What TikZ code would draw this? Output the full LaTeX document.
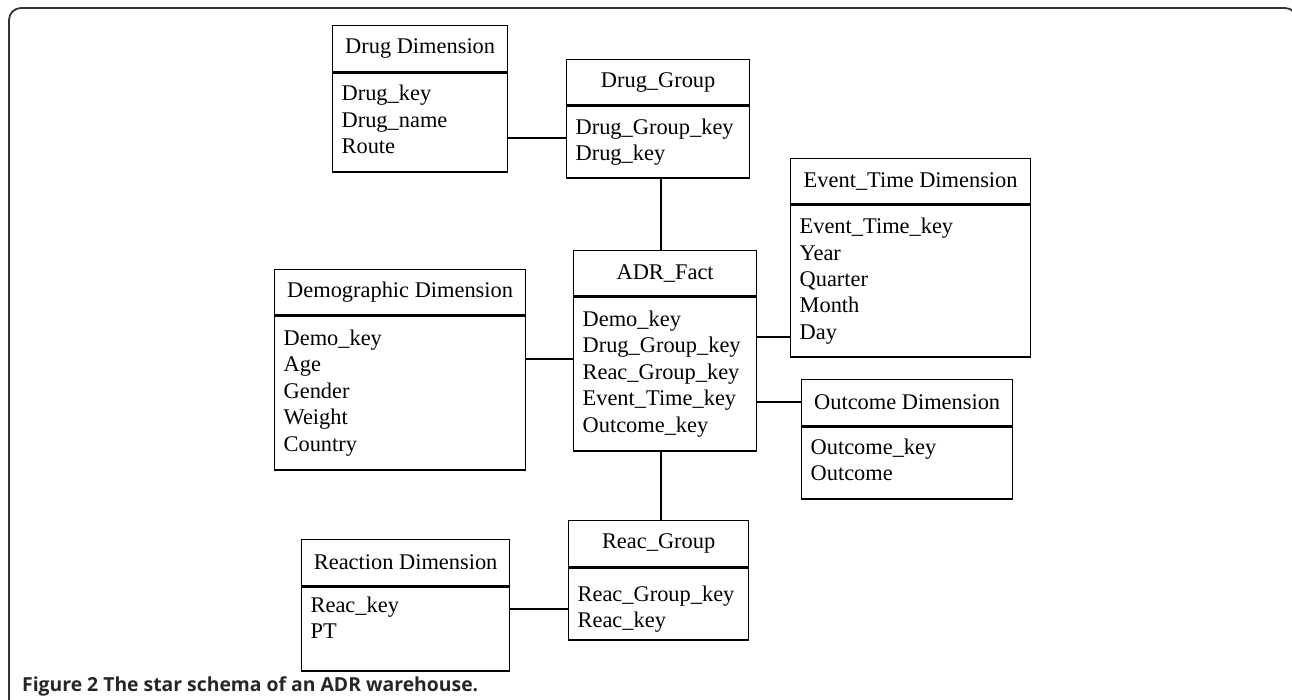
\documentclass[tikz,border=0pt]{standalone}
\usepackage{fontspec}
\usepackage{graphicx}
\setmainfont{Liberation Serif}
\newfontfamily\capfont{Open Sans}
\tikzset{
  tline/.style={line width=1.3pt, draw=black},
  hdr/.style={tline, rectangle, inner sep=0pt, font=\fontsize{22.4}{26.4}\selectfont, anchor=north west},
  bdy/.style={tline, rectangle, inner xsep=9pt, inner ysep=0pt, align=left, font=\fontsize{22.4}{26.4}\selectfont, anchor=north},
  link/.style={line width=1.3pt, draw=black},
  framestyle/.style={line width=1.8pt, draw=black!80, rounded corners=12pt}
}
% name, x, y, width, header height, body height, text width, header, body
\newcommand\mytable[9]{%
  \node[hdr, minimum width=#4pt, minimum height=#5pt] (#1h) at (#2,#3) {#8};
  \node[bdy, text width=#7pt, minimum height=#6pt] (#1b) at (#1h.south) {#9};
}
\begin{document}
\begin{tikzpicture}[x=1pt, y=-1pt]
\useasboundingbox (0,0) rectangle (1292,699);
\draw[framestyle] (9,710) -- (9,8) -- (1297,8) -- (1297,710);

\mytable{dd}{332}{25}{175}{46}{99}{157}{Drug Dimension}{Drug\_key\\Drug\_name\\Route\\[-20pt]\mbox{}}
\mytable{dg}{566}{59}{183}{45}{72}{165}{Drug\_Group}{Drug\_Group\_key\\Drug\_key}
\mytable{et}{790}{158}{240}{45}{152}{222}{Event\_Time Dimension}{Event\_Time\_key\\Year\\Quarter\\Month\\Day\\[-22pt]\mbox{}}
\mytable{af}{573}{250}{183}{45}{154}{165}{ADR\_Fact}{Demo\_key\\Drug\_Group\_key\\Reac\_Group\_key\\Event\_Time\_key\\Outcome\_key}
\mytable{dm}{274}{269}{251}{45}{154}{233}{Demographic Dimension}{Demo\_key\\Age\\Gender\\Weight\\Country}
\mytable{oc}{801}{379}{211}{46}{72}{193}{Outcome Dimension}{Outcome\_key\\Outcome\\[-20pt]\mbox{}}
\mytable{rd}{301}{539}{208}{46}{84}{190}{Reaction Dimension}{Reac\_key\\PT\\[-4pt]\mbox{}}
\mytable{rg}{568}{520}{180}{46}{72}{162}{Reac\_Group}{Reac\_Group\_key\\Reac\_key\\[-32.4pt]\mbox{}}

\coordinate (yDD) at (0,138);
\coordinate (yDM) at (0,359);
\coordinate (yET) at (0,337);
\coordinate (yOC) at (0,402);
\coordinate (yRD) at (0,609);
\coordinate (xV) at (661,0);

\draw[link] (ddb.east |- yDD) -- (dgb.west |- yDD);
\draw[link] (dgb.south -| xV) -- (afh.north -| xV);
\draw[link] (dmb.east |- yDM) -- (afb.west |- yDM);
\draw[link] (afb.east |- yET) -- (etb.west |- yET);
\draw[link] (afb.east |- yOC) -- (och.west |- yOC);
\draw[link] (afb.south -| xV) -- (rgh.north -| xV);
\draw[link] (rdb.east |- yRD) -- (rgb.west |- yRD);

\node[anchor=base west, inner sep=0pt, text=black!85] (cap) at (22,691)
  {\resizebox{456pt}{!}{\capfont\bfseries Figure 2 The star schema of an ADR warehouse.}};
\end{tikzpicture}
\end{document}
